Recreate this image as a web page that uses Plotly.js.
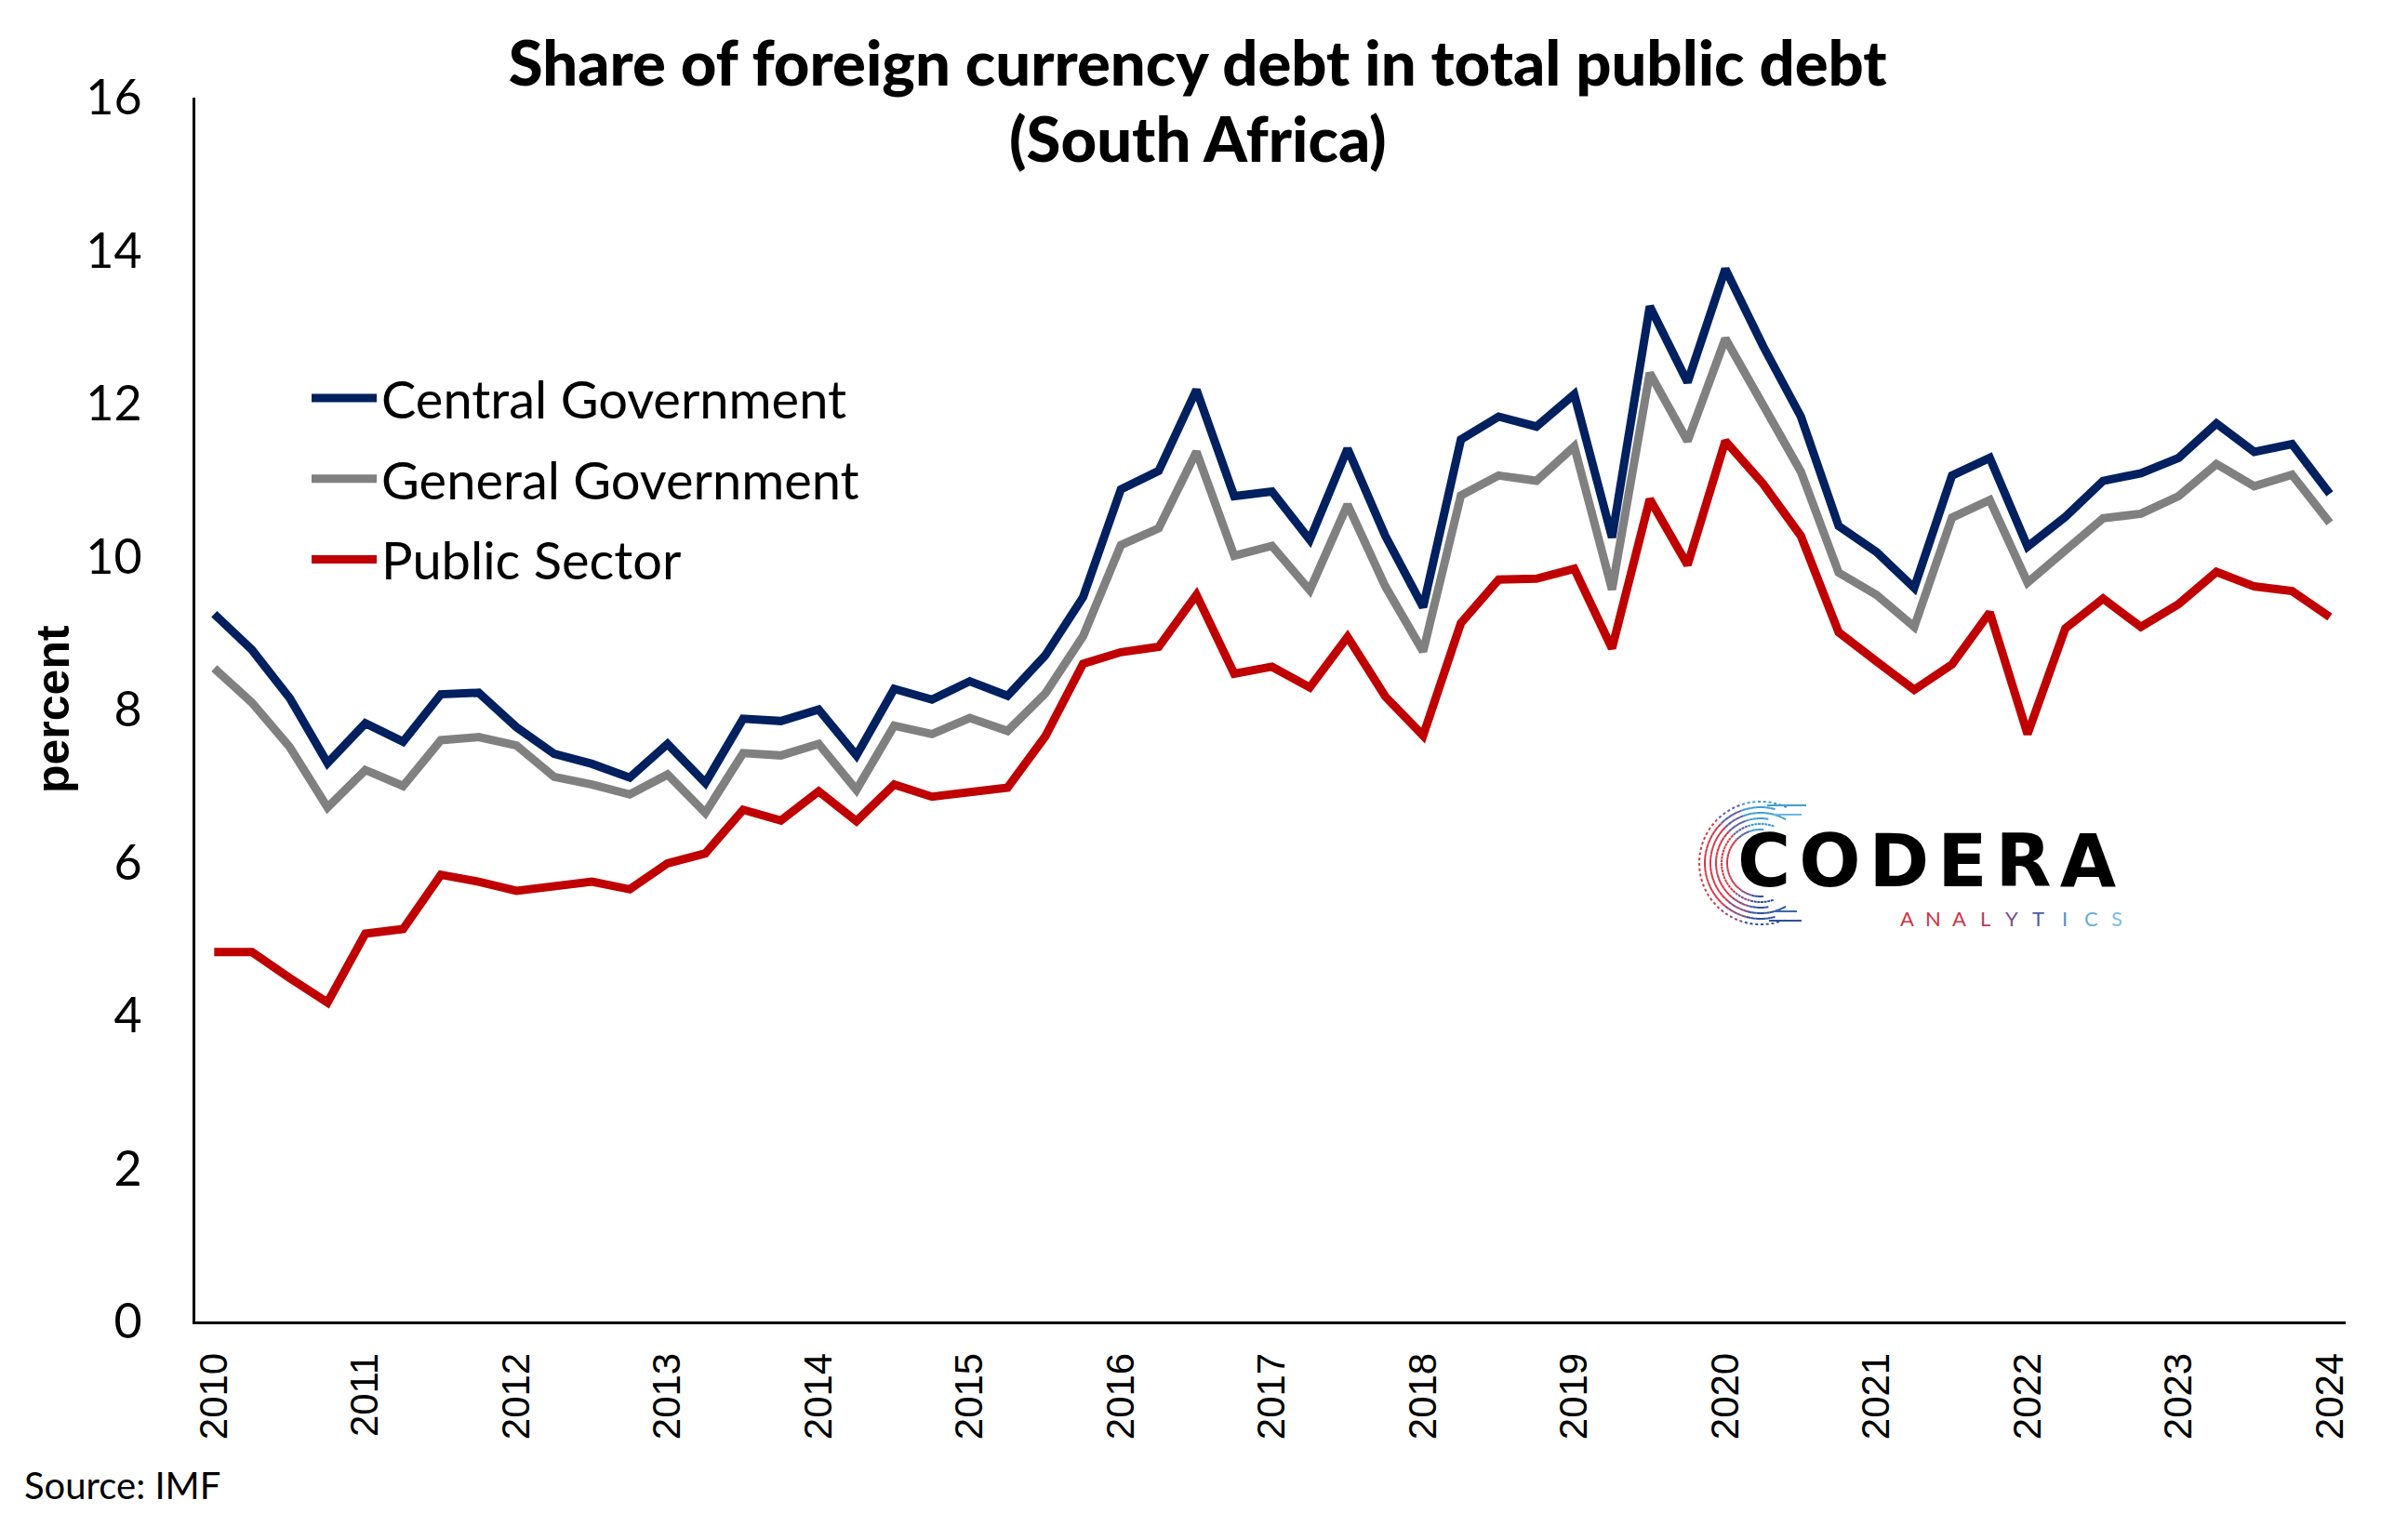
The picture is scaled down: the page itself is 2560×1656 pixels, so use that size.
<!DOCTYPE html>
<html>
<head>
<meta charset="utf-8">
<script src="https://cdn.plot.ly/plotly-3.0.1.min.js"></script>
<style>html,body{margin:0;padding:0;background:#fff;}#chart{width:2560px;height:1656px;}</style>
</head>
<body>
<div id="chart"></div>
<script>
// ---- data ----
const years = ['2010','2011','2012','2013','2014','2015','2016','2017','2018','2019','2020','2021','2022','2023','2024'];
const quarters = [];
for (const y of years) { for (const q of ['Q1','Q2','Q3','Q4']) { quarters.push(y + q); } }
quarters.length = 57; // 2010Q1 .. 2024Q1

const centralGov = [9.25,8.78,8.15,7.30,7.82,7.58,8.20,8.22,7.77,7.42,7.29,7.11,7.55,7.04,7.88,7.85,8.00,7.40,8.27,8.13,8.37,8.18,8.71,9.47,10.88,11.12,12.18,10.79,10.85,10.22,11.41,10.27,9.34,11.53,11.83,11.70,12.12,10.25,13.27,12.28,13.76,12.75,11.83,10.40,10.06,9.59,11.06,11.29,10.13,10.52,10.99,11.09,11.29,11.74,11.37,11.47,10.82];
const generalGov = [8.54,8.09,7.51,6.72,7.21,7.00,7.60,7.64,7.53,7.12,7.02,6.89,7.15,6.65,7.43,7.40,7.55,6.95,7.79,7.68,7.89,7.72,8.21,8.96,10.15,10.37,11.37,10.01,10.14,9.56,10.68,9.61,8.76,10.80,11.06,10.99,11.44,9.57,12.40,11.51,12.85,11.97,11.11,9.79,9.50,9.08,10.51,10.74,9.66,10.08,10.50,10.56,10.79,11.21,10.92,11.07,10.44];
const publicSector = [4.83,4.83,4.49,4.17,5.07,5.13,5.84,5.75,5.63,5.69,5.75,5.65,5.99,6.12,6.69,6.55,6.93,6.54,7.02,6.86,6.91,6.98,7.65,8.60,8.75,8.82,9.50,8.47,8.56,8.29,8.95,8.17,7.66,9.13,9.70,9.71,9.84,8.80,10.75,9.89,11.51,10.95,10.27,9.01,8.63,8.26,8.59,9.27,7.68,9.06,9.45,9.08,9.38,9.80,9.61,9.55,9.21];
const tickQuarters = years.map(y => y + 'Q1');
const tickLabels = years;
const yTicks = [0,2,4,6,8,10,12,14,16];

// ---- layout geometry (pixels) ----
const W = 2560, H = 1656;
const L = 210, R = 2522, T = 105, B = 1421;
const px2x = p => (p - L) / (R - L);
const py2y = p => (B - p) / (B - T);

const traces = [
  {name:'Central Government', y:centralGov, color:'#002060'},
  {name:'General Government', y:generalGov, color:'#808080'},
  {name:'Public Sector', y:publicSector, color:'#C00000'}
].map((s, i) => ({
  type:'scatter', mode:'lines', x:quarters, y:s.y, name:s.name,
  legendgroup:'g'+i,
  line:{color:s.color, width:9},
  hoverinfo:'x+y+name'
}));

// logo swirl (decoration)
const shapes = [];
const cx = 1893, cy = 928;
const arcs = [
  {r:66, a0:65, a1:295, dash:'dot'},
  {r:60, a0:75, a1:285, dash:'solid'},
  {r:54, a0:60, a1:300, dash:'dash'},
  {r:48, a0:80, a1:280, dash:'solid'},
  {r:42, a0:70, a1:290, dash:'dot'},
  {r:36, a0:85, a1:275, dash:'solid'}
];
function segColor(a) {
  if (a < 110) return '#3d9fd2';
  if (a < 135) return '#5a5fa8';
  if (a < 230) return '#d23a48';
  if (a < 255) return '#8a4a86';
  return '#2d4f9e';
}
arcs.forEach(ac => {
  const step = 5;
  for (let a = ac.a0; a < ac.a1; a += step) {
    const b = Math.min(a + step, ac.a1);
    let d = '';
    for (let t = a; t <= b + 0.001; t += 2.5) {
      const rad = t * Math.PI / 180;
      const px = cx + ac.r * Math.cos(rad);
      const py = cy - ac.r * Math.sin(rad);
      d += (d === '' ? 'M' : 'L') + px2x(px).toFixed(5) + ',' + py2y(py).toFixed(5);
    }
    shapes.push({type:'path', xref:'paper', yref:'paper', path:d,
      line:{color:segColor((a+b)/2), width:2, dash:ac.dash}, layer:'above'});
  }
});
// small tails on top and bottom
[[1900,866,1942,866,'#3d9fd2'],[1907,876,1937,876,'#6ab8e0'],[1902,990,1937,990,'#2d4f9e'],[1907,980,1932,980,'#3a6ab0']].forEach(t => {
  shapes.push({type:'line', xref:'paper', yref:'paper', x0:px2x(t[0]), y0:py2y(t[1]), x1:px2x(t[2]), y1:py2y(t[3]),
    line:{color:t[4], width:2}});
});

const titleFont = {family:'Lato', size:67, color:'#000000', weight:900};

const annotations = [
  {text:'(South Africa)', xref:'paper', yref:'paper', x:px2x(1288), y:py2y(148),
   xanchor:'center', yanchor:'middle', showarrow:false, font:titleFont},
  {text:'<b>percent</b>', xref:'paper', yref:'paper', x:px2x(57), y:py2y(763),
   xanchor:'center', yanchor:'middle', textangle:-90, showarrow:false,
   font:{family:'Liberation Sans, Arial', size:50, color:'#000000'}},
  {text:'Source: IMF', xref:'paper', yref:'paper', x:px2x(24), y:py2y(1597),
   xanchor:'left', yanchor:'middle', showarrow:false,
   font:{family:'Lato', size:40, color:'#000000'}},
  {text:'<span style="letter-spacing:9px">CODERA</span>', xref:'paper', yref:'paper', x:px2x(1866), y:py2y(926),
   xanchor:'left', yanchor:'middle', showarrow:false,
   font:{family:'DejaVu Sans', size:78, color:'#000000', weight:700}}
];
// "ANALYTICS" letter by letter (logo)
const anaColors = ['#d2313f','#d2313f','#cc3446','#b53c5a','#7a4d8a','#4a5ea5','#5a8fc5','#6aaed6','#7bbde0'];
'ANALYTICS'.split('').forEach((c, i) => {
  annotations.push({text:c, xref:'paper', yref:'paper', x:px2x(2050 + 28.3 * i), y:py2y(987),
    xanchor:'center', yanchor:'middle', showarrow:false, borderpad:0,
    font:{family:'Lato', size:22, color:anaColors[i]}});
});

const layout = {
  width: W, height: H,
  paper_bgcolor:'#ffffff', plot_bgcolor:'#ffffff',
  margin:{l:L, r:W-R, t:T, b:H-B},
  title:{
    text:'Share of foreign currency debt in total public debt',
    font:titleFont,
    x:0.503, xref:'container', xanchor:'center',
    y:1 - 69/H, yref:'container', yanchor:'middle'
  },
  showlegend:true,
  legend:{
    x:px2x(330), y:py2y(385), xanchor:'left', yanchor:'top',
    font:{family:'Lato', size:56, color:'#000000'},
    bgcolor:'rgba(0,0,0,0)', itemwidth:70, tracegroupgap:11,
    traceorder:'grouped'
  },
  xaxis:{
    type:'category', range:[-0.5, 56.42],
    tickmode:'array', tickvals:tickQuarters, ticktext:tickLabels,
    tickangle:-90, ticks:'', showgrid:false, zeroline:false,
    showline:true, linecolor:'#000000', linewidth:3,
    tickfont:{family:'Liberation Sans, Arial', size:42, color:'#000000'},
    ticklabelstandoff:14
  },
  yaxis:{
    range:[0,16], tickmode:'array', tickvals:yTicks,
    ticks:'', showgrid:false, zeroline:false,
    showline:true, linecolor:'#000000', linewidth:3,
    tickfont:{family:'Lato', size:52, color:'#000000'},
    ticklabelstandoff:44
  },
  annotations: annotations,
  shapes: shapes
};

Plotly.newPlot('chart', traces, layout, {displayModeBar:false, staticPlot:true});
</script>
</body>
</html>
